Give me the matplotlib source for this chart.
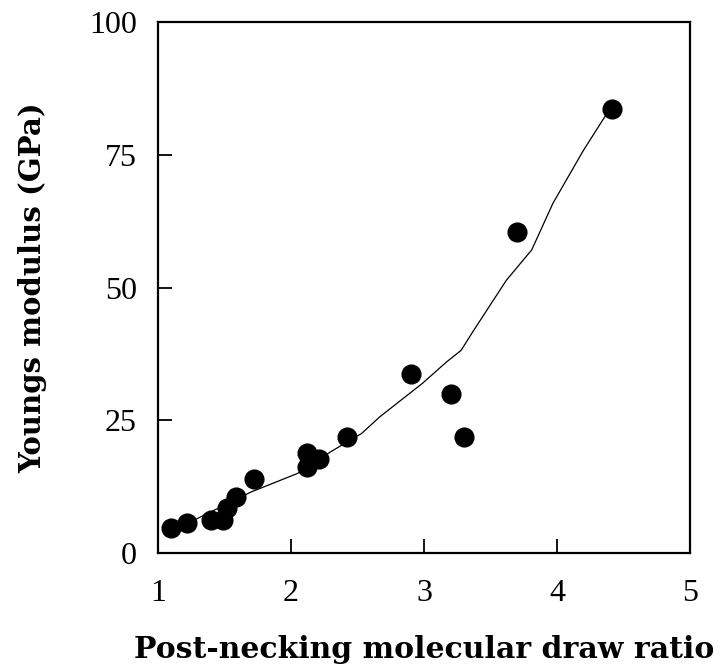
import matplotlib
matplotlib.use("Agg")
import matplotlib.pyplot as plt

# Measured data points
draw_ratio = [1.10, 1.22, 1.40, 1.49, 1.52, 1.59, 1.72, 2.12, 2.12, 2.21, 2.42,
              2.90, 3.20, 3.30, 3.70, 4.41]
modulus = [4.7, 5.7, 6.2, 6.2, 8.5, 10.6, 13.9, 18.8, 16.3, 17.8, 21.9,
           33.8, 29.9, 21.8, 60.5, 83.6]

# Fitted trend line
fit_x = [1.10, 1.28, 1.70, 2.05, 2.30, 2.53, 2.67, 2.99, 3.17, 3.28, 3.36,
         3.62, 3.81, 3.97, 4.20, 4.36, 4.41]
fit_y = [4.8, 6.3, 11.5, 15.0, 19.1, 22.5, 25.7, 32.0, 36.0, 38.2, 41.4,
         51.4, 57.1, 65.9, 75.9, 82.2, 83.6]

x_ticks = [1, 2, 3, 4, 5]
y_ticks = [0, 25, 50, 75, 100]

serif = ["Liberation Serif", "DejaVu Serif"]
bold_serif = ["DejaVu Serif", "Liberation Serif"]

fig = plt.figure(figsize=(7.21, 6.72), dpi=100)
ax = fig.add_axes([0.219, 0.177, 0.738, 0.790])

ax.plot(fit_x, fit_y, color="black", linewidth=0.9, zorder=2)
ax.plot(draw_ratio, modulus, linestyle="none", marker="o", markersize=13.5,
        color="black", zorder=3)

ax.set_xlim(1, 5)
ax.set_ylim(0, 100)
ax.set_xticks(x_ticks)
ax.set_yticks(y_ticks)
ax.set_xticklabels([str(v) for v in x_ticks], family=serif, fontsize=23)
ax.set_yticklabels([str(v) for v in y_ticks], family=serif, fontsize=23)
ax.tick_params(axis="both", direction="in", length=10, width=1.3,
               top=False, right=False)
ax.tick_params(axis="x", pad=19)
ax.tick_params(axis="y", pad=15)
for s in ax.spines.values():
    s.set_linewidth(1.6)

ax.set_xlabel("Post-necking molecular draw ratio", family=bold_serif,
              fontweight="bold", fontsize=21.5, labelpad=19)
ax.set_ylabel("Youngs modulus (GPa)", family=bold_serif, fontweight="bold",
              fontsize=21, labelpad=30)

fig.savefig("out.png", dpi=100)
